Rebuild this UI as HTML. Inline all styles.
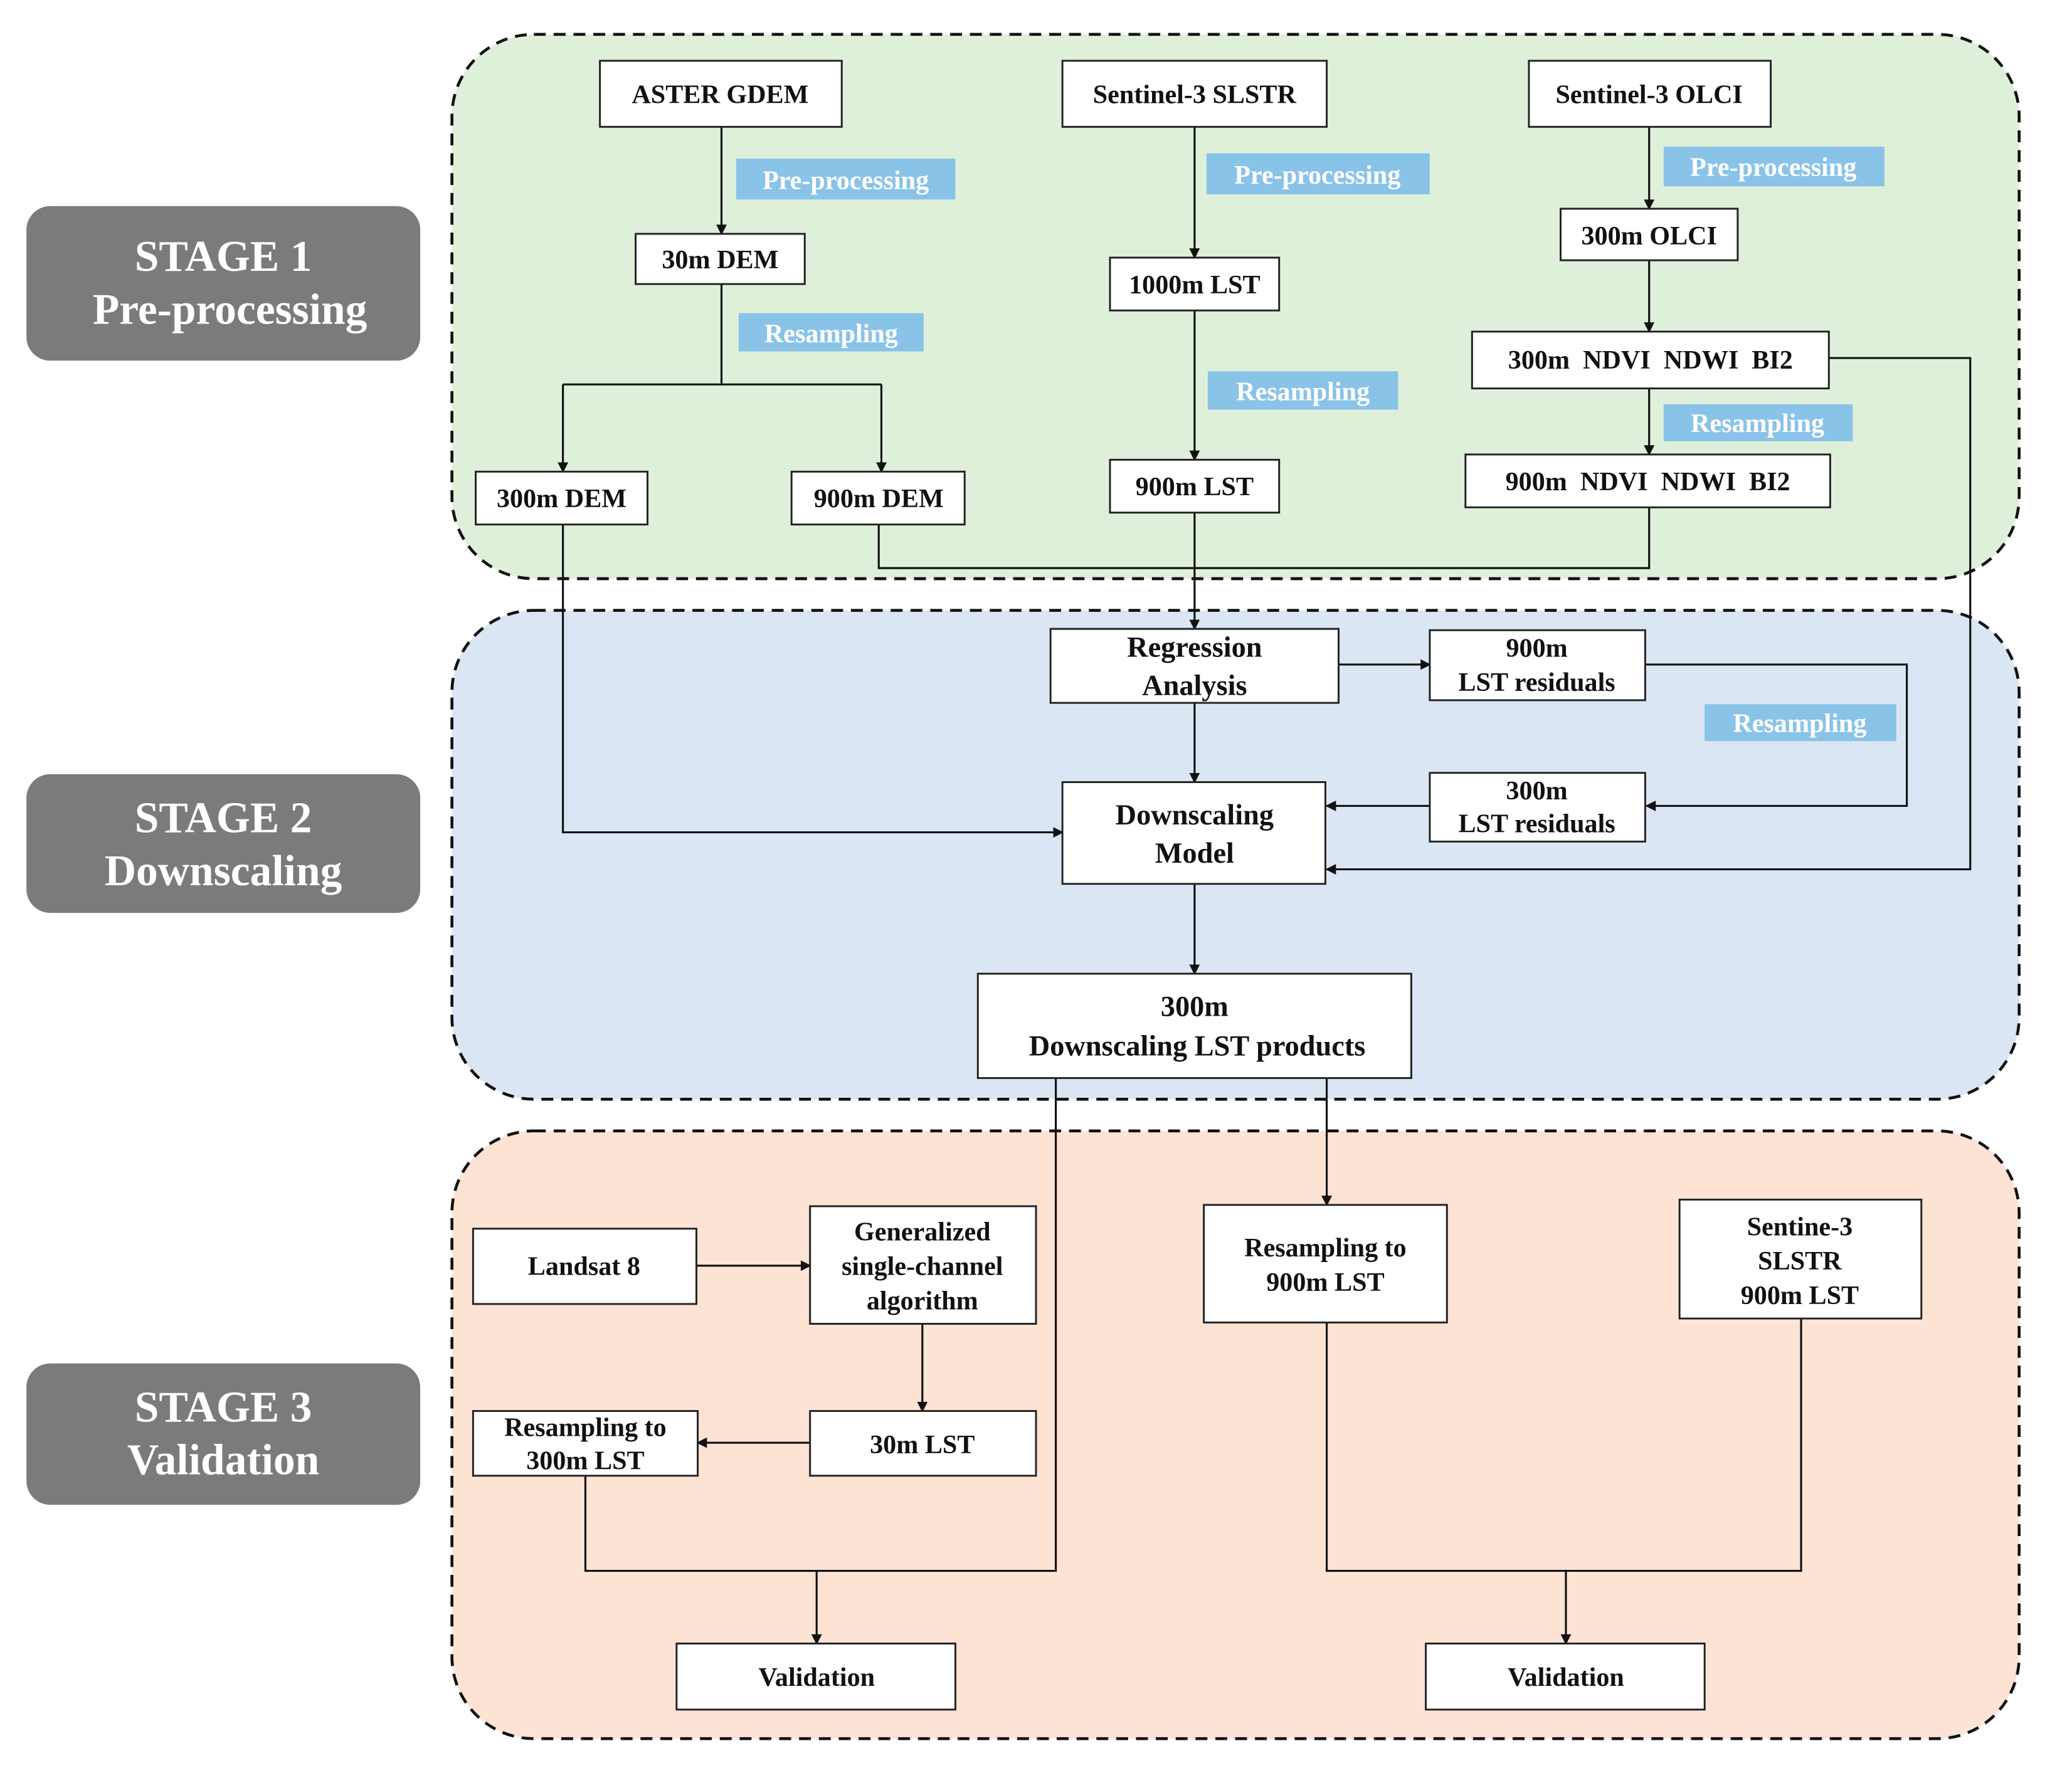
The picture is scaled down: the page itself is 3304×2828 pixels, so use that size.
<!DOCTYPE html>
<html><head><meta charset="utf-8"><style>
html,body{margin:0;padding:0;background:#fff;}
svg{display:block;}
text{font-family:"Liberation Serif",serif;}
.n{fill:#fff;stroke:#222;stroke-width:1.4;}
.t{font-size:20px;font-weight:bold;fill:#111;text-anchor:middle;}
.b{fill:#8ac3e8;}
.bt{font-size:20px;font-weight:bold;fill:#fff;text-anchor:middle;}
.l{fill:none;stroke:#111;stroke-width:1.5;}
.s{fill:#7b7b7b;}
.st{font-size:33px;font-weight:bold;fill:#fff;text-anchor:middle;}
</style></head><body>
<svg width="3304" height="2828" viewBox="0 0 1568 1342" preserveAspectRatio="none" xmlns="http://www.w3.org/2000/svg">
<defs><marker id="a" markerWidth="8" markerHeight="8" refX="7" refY="4" orient="auto" markerUnits="userSpaceOnUse"><path d="M0,0 L8,4 L0,8 z" fill="#111"/></marker></defs>
<rect x="342" y="26" width="1186" height="412" rx="62" fill="#dff0da" stroke="#111" stroke-width="2.2" stroke-dasharray="9,6"/>
<rect x="342" y="462" width="1186" height="370" rx="62" fill="#dbe6f4" stroke="#111" stroke-width="2.2" stroke-dasharray="9,6"/>
<rect x="342" y="856" width="1186" height="460" rx="62" fill="#fde3d4" stroke="#111" stroke-width="2.2" stroke-dasharray="9,6"/>
<rect class="s" x="20" y="156" width="298" height="117" rx="18"/>
<text class="st" x="169" y="205">STAGE 1</text><text class="st" x="174" y="245">Pre-processing</text>
<rect class="s" x="20" y="586" width="298" height="105" rx="18"/>
<text class="st" x="169" y="630">STAGE 2</text><text class="st" x="169" y="670">Downscaling</text>
<rect class="s" x="20" y="1032" width="298" height="107" rx="18"/>
<text class="st" x="169" y="1076">STAGE 3</text><text class="st" x="169" y="1116">Validation</text>
<g class="l">
<path d="M546,96V177" marker-end="url(#a)"/>
<path d="M546,215V291M426,291H667"/>
<path d="M426,291V357" marker-end="url(#a)"/><path d="M667,291V357" marker-end="url(#a)"/>
<path d="M904,96V195" marker-end="url(#a)"/><path d="M904,235V348" marker-end="url(#a)"/><path d="M904,388V476" marker-end="url(#a)"/>
<path d="M1248,96V158" marker-end="url(#a)"/><path d="M1248,197V251" marker-end="url(#a)"/><path d="M1248,294V344" marker-end="url(#a)"/>
<path d="M665,397V430H1248V384"/>
<path d="M1384,271H1491V658H1004" marker-end="url(#a)"/>
<path d="M426,397V630H804" marker-end="url(#a)"/>
<path d="M1013,503H1082" marker-end="url(#a)"/>
<path d="M1245,503H1443V610H1246" marker-end="url(#a)"/>
<path d="M1082,610H1004" marker-end="url(#a)"/>
<path d="M904,532V592" marker-end="url(#a)"/><path d="M904,669V737" marker-end="url(#a)"/>
<path d="M799,816V1189H443V1117"/>
<path d="M1004,816V912" marker-end="url(#a)"/>
<path d="M527,958H613" marker-end="url(#a)"/>
<path d="M698,1002V1068" marker-end="url(#a)"/>
<path d="M613,1092H528" marker-end="url(#a)"/>
<path d="M618,1189V1244" marker-end="url(#a)"/>
<path d="M1004,1001V1189H1363V998"/>
<path d="M1185,1189V1244" marker-end="url(#a)"/>
</g>
<rect class="b" x="557" y="120" width="166" height="31"/><text class="bt" x="640" y="143">Pre-processing</text>
<rect class="b" x="913" y="116" width="169" height="31"/><text class="bt" x="997" y="139">Pre-processing</text>
<rect class="b" x="1259" y="111" width="167" height="30"/><text class="bt" x="1342" y="133">Pre-processing</text>
<rect class="b" x="559" y="237" width="140" height="29"/><text class="bt" x="629" y="259">Resampling</text>
<rect class="b" x="914" y="281" width="144" height="29"/><text class="bt" x="986" y="303">Resampling</text>
<rect class="b" x="1259" y="306" width="143" height="28"/><text class="bt" x="1330" y="327">Resampling</text>
<rect class="b" x="1290" y="533" width="145" height="28"/><text class="bt" x="1362" y="554">Resampling</text>
<rect class="n" x="454" y="46" width="183" height="50"/><text class="t" x="545" y="78">ASTER GDEM</text>
<rect class="n" x="804" y="46" width="200" height="50"/><text class="t" x="904" y="78">Sentinel-3 SLSTR</text>
<rect class="n" x="1157" y="46" width="183" height="50"/><text class="t" x="1248" y="78">Sentinel-3 OLCI</text>
<rect class="n" x="481" y="177" width="128" height="38"/><text class="t" x="545" y="203">30m DEM</text>
<rect class="n" x="840" y="195" width="128" height="40"/><text class="t" x="904" y="222">1000m LST</text>
<rect class="n" x="1181" y="158" width="134" height="39"/><text class="t" x="1248" y="185">300m OLCI</text>
<rect class="n" x="1114" y="251" width="270" height="43"/><text class="t" x="1249" y="279" xml:space="preserve">300m  NDVI  NDWI  BI2</text>
<rect class="n" x="360" y="357" width="130" height="40"/><text class="t" x="425" y="384">300m DEM</text>
<rect class="n" x="599" y="357" width="131" height="40"/><text class="t" x="665" y="384">900m DEM</text>
<rect class="n" x="840" y="348" width="128" height="40"/><text class="t" x="904" y="375">900m LST</text>
<rect class="n" x="1109" y="344" width="276" height="40"/><text class="t" x="1247" y="371" xml:space="preserve">900m  NDVI  NDWI  BI2</text>
<rect class="n" x="795" y="476" width="218" height="56"/><text class="t" x="904" y="497" style="font-size:22px">Regression</text><text class="t" x="904" y="526" style="font-size:22px">Analysis</text>
<rect class="n" x="1082" y="477" width="163" height="53"/><text class="t" x="1163" y="497">900m</text><text class="t" x="1163" y="523">LST residuals</text>
<rect class="n" x="804" y="592" width="199" height="77"/><text class="t" x="904" y="624" style="font-size:22px">Downscaling</text><text class="t" x="904" y="653" style="font-size:22px">Model</text>
<rect class="n" x="1082" y="585" width="163" height="52"/><text class="t" x="1163" y="605">300m</text><text class="t" x="1163" y="630">LST residuals</text>
<rect class="n" x="740" y="737" width="328" height="79"/><text class="t" x="904" y="769" style="font-size:22px">300m</text><text class="t" x="906" y="799" style="font-size:22px">Downscaling LST products</text>
<rect class="n" x="358" y="930" width="169" height="57"/><text class="t" x="442" y="965">Landsat 8</text>
<rect class="n" x="613" y="913" width="171" height="89"/><text class="t" x="698" y="939">Generalized</text><text class="t" x="698" y="965">single-channel</text><text class="t" x="698" y="991">algorithm</text>
<rect class="n" x="911" y="912" width="184" height="89"/><text class="t" x="1003" y="951">Resampling to</text><text class="t" x="1003" y="977">900m LST</text>
<rect class="n" x="1271" y="908" width="183" height="90"/><text class="t" x="1362" y="935">Sentine-3</text><text class="t" x="1362" y="961">SLSTR</text><text class="t" x="1362" y="987">900m LST</text>
<rect class="n" x="358" y="1068" width="170" height="49"/><text class="t" x="443" y="1087">Resampling to</text><text class="t" x="443" y="1112">300m LST</text>
<rect class="n" x="613" y="1068" width="171" height="49"/><text class="t" x="698" y="1100">30m LST</text>
<rect class="n" x="512" y="1244" width="211" height="50"/><text class="t" x="618" y="1276">Validation</text>
<rect class="n" x="1079" y="1244" width="211" height="50"/><text class="t" x="1185" y="1276">Validation</text>
</svg>
</body></html>
